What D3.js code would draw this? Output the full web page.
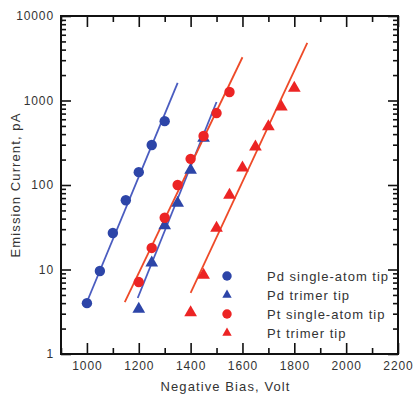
<!DOCTYPE html>
<html>
<head>
<meta charset="utf-8">
<script src="https://cdn.jsdelivr.net/npm/d3@7"></script>
<style>
body { margin: 0; background: #fff; }
text { font-family: Arial, "Liberation Sans", sans-serif; fill: #333; }
</style>
</head>
<body>
<div id="graph"></div>
<script>
var SVGwidth = 414,
	SVGheight = 394,
	margin = {top: 16, right: 16, bottom: 40, left: 61},
	width = SVGwidth - margin.left - margin.right,
	height = SVGheight - margin.top - margin.bottom;

// data
var pdSingleV = [1000, 1050, 1100, 1150, 1200, 1250, 1300];
var pdSingleI = [4, 9.6, 27, 66, 142, 297, 570];
var pdTrimerV = [1200, 1250, 1300, 1350, 1400, 1450];
var pdTrimerI = [3.4, 12, 33, 61, 150, 360];
var ptSingleV = [1200, 1250, 1300, 1350, 1400, 1450, 1500, 1550];
var ptSingleI = [7.1, 18, 41, 100, 204, 380, 710, 1260];
var ptTrimerV = [1400, 1450, 1500, 1550, 1600, 1650, 1700, 1750, 1800];
var ptTrimerI = [3.1, 8.6, 31, 76, 160, 283, 490, 840, 1400];

// fit lines, [volt, pA] end points
var pdSingleFit = [[992, 3.6], [1350, 1620]];
var pdTrimerFit = [[1196, 4.6], [1500, 960]];
var ptSingleFit = [[1146, 4.1], [1600, 3250]];
var ptTrimerFit = [[1400, 5.3], [1850, 4800]];

var seriesNames = ["Pd single-atom tip", "Pd trimer tip", "Pt single-atom tip", "Pt trimer tip"];
var xTicks = [1000, 1200, 1400, 1600, 1800, 2000, 2200];
var yTicks = [1, 10, 100, 1000, 10000];

var blue = "#2d45a8", red = "#ec2424",
	blueLine = "#4a5cc0", redLine = "#ee4a28";

var series = [
	{name: seriesNames[0], v: pdSingleV, i: pdSingleI, fit: pdSingleFit, shape: "circle", color: blue, line: blueLine},
	{name: seriesNames[1], v: pdTrimerV, i: pdTrimerI, fit: pdTrimerFit, shape: "triangle", color: blue, line: blueLine},
	{name: seriesNames[2], v: ptSingleV, i: ptSingleI, fit: ptSingleFit, shape: "circle", color: red, line: redLine},
	{name: seriesNames[3], v: ptTrimerV, i: ptTrimerI, fit: ptTrimerFit, shape: "triangle", color: red, line: redLine}
];

var svg = d3.select('div#graph')
	.append('svg')
	.attr('width', SVGwidth)
	.attr('height', SVGheight);

var g = svg.append("g")
	.attr("transform", "translate(" + margin.left + "," + margin.top + ")");

var x = d3.scaleLinear()
	.domain([900, 2200])
	.range([0, width]);
var y = d3.scaleLog()
	.domain([1, 10000])
	.range([height, 0]);

var minorX = d3.range(900, 2201, 100).filter(function(d) { return xTicks.indexOf(d) < 0; });
var minorY = [];
for (var e = 0; e < 4; e++) {
	for (var k = 2; k < 10; k++) minorY.push(k * Math.pow(10, e));
}

function tickStyle(sel) {
	sel.select(".domain").remove();
	sel.selectAll("line").attr("stroke", "#111").attr("stroke-width", 1.6);
	sel.selectAll("text").attr("fill", "#333").style("font-size", "12px").style("letter-spacing", "0.9px");
}

// major and minor ticks on all four sides, pointing in
g.append("g").attr("transform", "translate(0," + height + ")")
	.call(d3.axisBottom(x).tickValues(xTicks).tickSize(-11).tickPadding(7).tickFormat(d3.format("d")))
	.call(tickStyle);
g.append("g").attr("transform", "translate(0," + height + ")")
	.call(d3.axisBottom(x).tickValues(minorX).tickSize(-6).tickFormat(""))
	.call(tickStyle);
g.append("g")
	.call(d3.axisTop(x).tickValues(xTicks).tickSize(-11).tickFormat(""))
	.call(tickStyle);
g.append("g")
	.call(d3.axisTop(x).tickValues(minorX).tickSize(-6).tickFormat(""))
	.call(tickStyle);
g.append("g")
	.call(d3.axisLeft(y).tickValues(yTicks).tickSize(-10).tickPadding(7).tickFormat(d3.format("d")))
	.call(tickStyle);
g.append("g")
	.call(d3.axisLeft(y).tickValues(minorY).tickSize(-5).tickFormat(""))
	.call(tickStyle);
g.append("g").attr("transform", "translate(" + width + ",0)")
	.call(d3.axisRight(y).tickValues(yTicks).tickSize(-10).tickFormat(""))
	.call(tickStyle);
g.append("g").attr("transform", "translate(" + width + ",0)")
	.call(d3.axisRight(y).tickValues(minorY).tickSize(-5).tickFormat(""))
	.call(tickStyle);

g.append("rect")
	.attr("width", width)
	.attr("height", height)
	.attr("fill", "none")
	.attr("stroke", "#111")
	.attr("stroke-width", 2);

var line = d3.line()
	.x(function(d) { return x(d[0]); })
	.y(function(d) { return y(d[1]); });

g.selectAll(".fit")
	.data(series)
	.enter()
	.append("path")
	.attr("class", "fit")
	.attr("d", function(d) { return line(d.fit); })
	.attr("fill", "none")
	.attr("stroke", function(d) { return d.line; })
	.attr("stroke-width", 1.8);

var circleSym = d3.symbol().type(d3.symbolCircle).size(85),
	triSym = d3.symbol().type(d3.symbolTriangle).size(70),
	circleLeg = d3.symbol().type(d3.symbolCircle).size(70),
	triLeg = d3.symbol().type(d3.symbolTriangle).size(38);

series.forEach(function(s) {
	g.append("g").selectAll("path")
		.data(s.v.map(function(v, j) { return [v, s.i[j]]; }))
		.enter()
		.append("path")
		.attr("transform", function(d) { return "translate(" + x(d[0]) + "," + y(d[1]) + ")"; })
		.attr("d", s.shape === "circle" ? circleSym : triSym)
		.attr("fill", s.color);
});

// legend
var legend = g.append("g")
	.attr("transform", "translate(" + (227 - margin.left) + "," + (276 - margin.top) + ")");
var item = legend.selectAll("g")
	.data(series)
	.enter()
	.append("g")
	.attr("transform", function(d, i) { return "translate(0," + (i * 19) + ")"; });
item.append("path")
	.attr("d", function(d) { return d.shape === "circle" ? circleLeg() : triLeg(); })
	.attr("fill", function(d) { return d.color; });
item.append("text")
	.attr("x", 40)
	.attr("dy", "0.35em")
	.style("font-size", "13px")
	.style("letter-spacing", "1px")
	.text(function(d) { return d.name; });

svg.append("text")
	.attr("x", margin.left + width / 2 - 4)
	.attr("y", 391)
	.attr("text-anchor", "middle")
	.style("font-size", "13px")
	.style("letter-spacing", "1.1px")
	.text("Negative Bias, Volt");

svg.append("text")
	.attr("transform", "translate(20," + (margin.top + height / 2) + ") rotate(-90)")
	.attr("text-anchor", "middle")
	.style("font-size", "13px")
	.style("letter-spacing", "1.1px")
	.text("Emission Current, pA");
</script>
</body>
</html>
